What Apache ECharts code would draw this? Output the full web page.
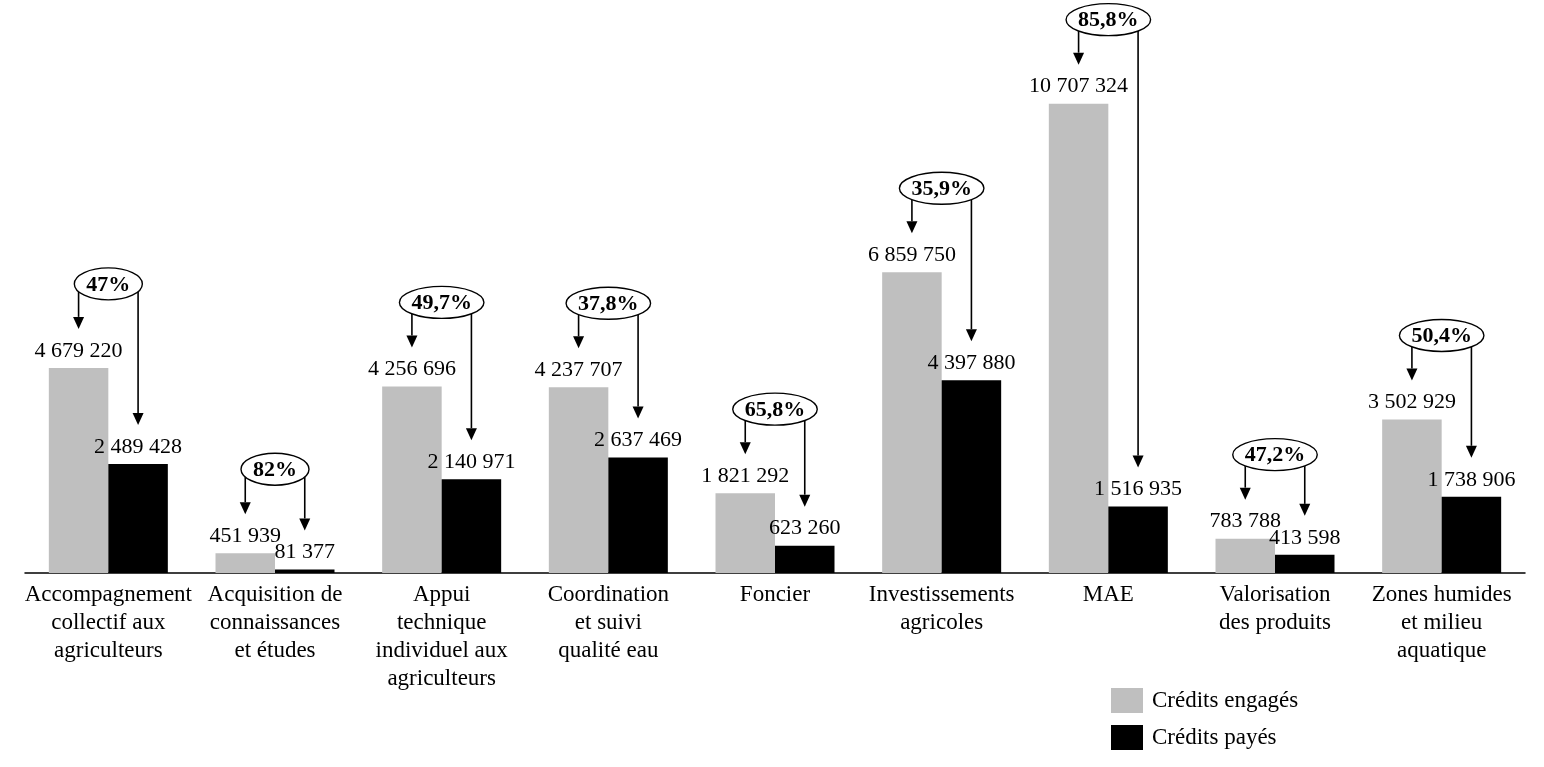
<!DOCTYPE html>
<html>
<head>
<meta charset="utf-8">
<script src="https://cdn.jsdelivr.net/npm/echarts@6/dist/echarts.min.js"></script>
<style>
  html, body { margin: 0; padding: 0; background: #fff; }
  #chart { width: 1544px; height: 767px; }
</style>
</head>
<body>
<div id="chart"></div>
<script>
  var categories = [
    'Accompagnement\ncollectif aux\nagriculteurs',
    'Acquisition de\nconnaissances\net études',
    'Appui\ntechnique\nindividuel aux\nagriculteurs',
    'Coordination\net suivi\nqualité eau',
    'Foncier',
    'Investissements\nagricoles',
    'MAE',
    'Valorisation\ndes produits',
    'Zones humides\net milieu\naquatique'
  ];
  var engages = [4679220, 451939, 4256696, 4237707, 1821292, 6859750, 10707324, 783788, 3502929];
  var payes = [2489428, 81377, 2140971, 2637469, 623260, 4397880, 1516935, 413598, 1738906];
  var taux = ['47%', '82%', '49,7%', '37,8%', '65,8%', '35,9%', '85,8%', '47,2%', '50,4%'];

  var FONT = 'Liberation Serif';
  var GAP = 0.286; // barCategoryGap

  // mesure du texte pour la taille des ellipses
  var ctx = document.createElement('canvas').getContext('2d');
  ctx.font = 'bold 22px "' + FONT + '"';

  function fmt(v) {
    return String(v).replace(/\B(?=(\d{3})+(?!\d))/g, ' ');
  }

  var annotData = [];
  for (var i = 0; i < categories.length; i++) {
    annotData.push([i, engages[i], payes[i]]);
  }

  function renderAnnot(params, api) {
    var idx = api.value(0);
    var g = api.coord([idx, api.value(1)]);
    var b = api.coord([idx, api.value(2)]);
    var band = api.size([1, 0])[0];
    var bw = band * (1 - GAP) / 2;
    var cx = g[0];
    var gx = cx - bw / 2;
    var bx = cx + bw / 2;
    var cy = g[1] - 84;
    var txt = taux[params.dataIndex];
    var rx = ctx.measureText(txt).width / 2 + 12;
    var ry = 16;
    function edge(x) {
      var d = Math.abs(x - cx) / rx;
      return d >= 1 ? cy : cy + ry * Math.sqrt(1 - d * d);
    }
    var gTip = g[1] - 39;
    var bTip = b[1] - 39;
    var head = 12, hw = 5.5;
    return {
      type: 'group',
      children: [
        { type: 'line', shape: { x1: gx, y1: edge(gx), x2: gx, y2: gTip - head }, style: { stroke: '#000', lineWidth: 1.6 } },
        { type: 'polygon', shape: { points: [[gx - hw, gTip - head], [gx + hw, gTip - head], [gx, gTip]] }, style: { fill: '#000' } },
        { type: 'line', shape: { x1: bx, y1: edge(bx), x2: bx, y2: bTip - head }, style: { stroke: '#000', lineWidth: 1.6 } },
        { type: 'polygon', shape: { points: [[bx - hw, bTip - head], [bx + hw, bTip - head], [bx, bTip]] }, style: { fill: '#000' } },
        { type: 'ellipse', shape: { cx: cx, cy: cy, rx: rx, ry: ry }, style: { fill: '#fff', stroke: '#000', lineWidth: 1.4 } },
        { type: 'text', style: { text: txt, x: cx, y: cy + 1, align: 'center', verticalAlign: 'middle', font: 'bold 22px "' + FONT + '"', fill: '#000' } }
      ]
    };
  }

  var chartDom = document.getElementById('chart');
  var myChart = echarts.init(chartDom);
  var option = {
    animation: false,
    backgroundColor: '#fff',
    textStyle: { fontFamily: FONT },
    grid: { left: 25, right: 19, top: 47, bottom: 194 },
    legend: {
      orient: 'vertical',
      left: 1111,
      top: 688,
      padding: 0,
      itemWidth: 32,
      itemHeight: 25,
      itemGap: 12,
      icon: 'rect',
      data: ['Crédits engagés', 'Crédits payés'],
      textStyle: { fontFamily: FONT, fontSize: 23, color: '#000', padding: [4, 0, 0, 4] }
    },
    xAxis: {
      type: 'category',
      data: categories,
      axisLine: { lineStyle: { color: '#000', width: 1.5 } },
      axisTick: { show: false },
      axisLabel: {
        interval: 0,
        margin: 8,
        color: '#000',
        fontFamily: FONT,
        fontSize: 23,
        lineHeight: 28
      }
    },
    yAxis: {
      type: 'value',
      min: 0,
      max: 12000000,
      show: false,
      splitLine: { show: false }
    },
    series: [
      {
        name: 'Crédits engagés',
        type: 'bar',
        data: engages,
        barGap: '0%',
        barCategoryGap: '28.6%',
        itemStyle: { color: '#bfbfbf' },
        label: {
          show: true,
          position: 'top',
          distance: 6,
          color: '#000',
          fontFamily: FONT,
          fontSize: 22,
          formatter: function (p) { return fmt(p.value); }
        }
      },
      {
        name: 'Crédits payés',
        type: 'bar',
        data: payes,
        barGap: '0%',
        barCategoryGap: '28.6%',
        itemStyle: { color: '#000' },
        label: {
          show: true,
          position: 'top',
          distance: 6,
          color: '#000',
          fontFamily: FONT,
          fontSize: 22,
          formatter: function (p) { return fmt(p.value); }
        }
      },
      {
        type: 'custom',
        name: 'taux',
        data: annotData,
        encode: { x: 0, y: 1 },
        renderItem: renderAnnot,
        z: 10,
        silent: true
      }
    ]
  };
  option && myChart.setOption(option);
</script>
</body>
</html>
